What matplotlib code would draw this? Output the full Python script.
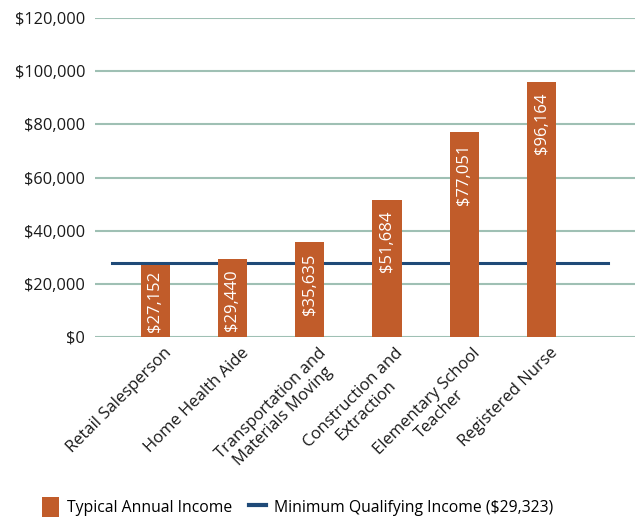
import matplotlib.pyplot as plt
import matplotlib.patches as mpatches
import matplotlib.lines as mlines
import matplotlib.transforms as mtransforms
import numpy as np
from matplotlib.ticker import FuncFormatter

plt.rcParams["font.family"] = ["Open Sans", "DejaVu Sans"]

occupations = [
    "Retail Salesperson",
    "Home Health Aide",
    "Transportation and\nMaterials Moving",
    "Construction and\nExtraction",
    "Elementary School\nTeacher",
    "Registered Nurse",
]
typical_income = [27152, 29440, 35635, 51684, 77051, 96164]
min_income_label = "Minimum Qualifying Income ($29,323)"
min_income_drawn = 27900  # where the line sits in the picture
y_ticks = [0, 20000, 40000, 60000, 80000, 100000, 120000]

BAR_COLOR = "#C15C2A"
LINE_COLOR = "#1F4A78"
GRID_COLOR = "#9FC0B4"

fig = plt.figure(figsize=(6.37, 5.2), dpi=100)
ax = fig.add_axes([0.149, 0.352, 0.848, 0.613])

x = np.arange(len(occupations))
ax.bar(x, typical_income, width=0.38, color=BAR_COLOR, zorder=3)
ax.plot([-0.56, len(occupations) - 0.14], [min_income_drawn] * 2,
        color=LINE_COLOR, linewidth=2.2, zorder=2)

for xi, v in zip(x, typical_income):
    ax.annotate(f"${v:,.0f}", (xi, max(v, 29000)), xytext=(0, -8),
                textcoords="offset points", rotation=90, ha="center", va="top",
                color="white", fontsize=12, zorder=4)

ax.set_xlim(-0.78, 6.21)
ax.set_ylim(0, 120000)
ax.set_yticks(y_ticks)
ax.yaxis.set_major_formatter(FuncFormatter(lambda v, _: f"${v:,.0f}"))
ax.grid(axis="y", color=GRID_COLOR, linewidth=1.5, zorder=0)
ax.set_axisbelow(True)
for s in ax.spines.values():
    s.set_visible(False)
ax.tick_params(axis="both", length=0, labelsize=11.8, colors="#1a1a1a")
ax.tick_params(axis="y", pad=7)

# category labels drawn by hand so they can sit a little right of the bar centre
ax.set_xticks(x)
ax.set_xticklabels([])
shift = mtransforms.ScaledTranslation(8 / 100, -8 / 100, fig.dpi_scale_trans)
for xi, name in zip(x, occupations):
    ax.text(xi, 0, name, transform=ax.get_xaxis_transform() + shift,
            rotation=45, ha="right", va="top", rotation_mode="anchor",
            multialignment="center", fontsize=12, color="#1a1a1a")

bar_handle = mpatches.Patch(facecolor=BAR_COLOR, edgecolor="none")
line_handle = mlines.Line2D([], [], color=LINE_COLOR, linewidth=3)
fig.legend([bar_handle, line_handle], ["Typical Annual Income", min_income_label],
           loc="center", bbox_to_anchor=(0.467, 0.025), ncol=2, frameon=False,
           fontsize=11.3, handlelength=1.1, handleheight=1.5, columnspacing=1.05,
           handletextpad=0.5)

fig.savefig("out.png", dpi=100)
